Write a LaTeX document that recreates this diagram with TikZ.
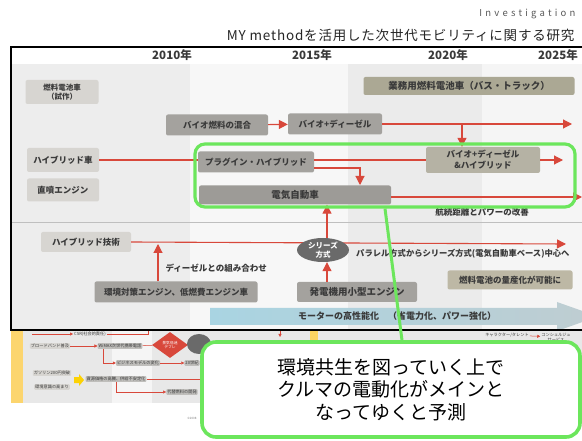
\documentclass[tikz,border=0pt]{standalone}
\usepackage{fontspec}
\setmainfont{Noto Sans CJK JP}
\usetikzlibrary{arrows.meta,shapes.geometric,positioning}
\definecolor{boxlight}{HTML}{D7D5D1}
\definecolor{boxmid}{HTML}{A4A29E}
\definecolor{boxdark}{HTML}{9D9B97}
\definecolor{oliveA}{HTML}{ABA894}
\definecolor{oliveB}{HTML}{B5B2A4}
\definecolor{oliveC}{HTML}{BDB8A5}
\definecolor{txt}{HTML}{3A3A3A}
\definecolor{redln}{HTML}{D8483B}
\definecolor{hlgreen}{HTML}{6CE65C}
\definecolor{ellgray}{HTML}{6A6A6A}
\definecolor{motorblue}{HTML}{A9D4E2}
\definecolor{motorgray}{HTML}{BFCDD1}

\begin{document}
\begin{tikzpicture}[x=1pt,y=-1pt,>={Triangle[length=9pt,width=9pt]},
  bx/.style={fill=boxlight,rounded corners=2pt,inner sep=0pt,text=txt,align=center,
    font=\bfseries\fontsize{8.5}{10}\selectfont},
  bxmid/.style={bx,fill=boxmid},
  link/.style={draw=redln,line width=1.1pt},
  tiny/.style={fill=boxlight,inner sep=1pt,rounded corners=1pt,text=txt,align=center,
    font=\fontsize{4.2}{5}\selectfont},
  tinylink/.style={draw=redln,line width=0.5pt,-{Triangle[length=3pt,width=3pt]}},
  year/.style={text=txt,font=\bfseries\fontsize{11.5}{13}\selectfont},
  hl/.style={draw=hlgreen,line width=3.2pt,rounded corners=10pt}]
\useasboundingbox (0,0) rectangle (582,441);
\fill[white] (0,0) rectangle (582,441);
% header
\node[anchor=east,text=black!65,font=\fontsize{9.5}{11}\selectfont\addfontfeatures{LetterSpace=34}] (inv) at (579,14) {Investigation};
\node[anchor=east,text=black!85,font=\fontsize{13.5}{15}\selectfont\addfontfeatures{LetterSpace=6}] (title) at (578,35) {MY methodを活用した次世代モビリティに関する研究};
% background bands of the chart
\fill[black!7] (11,64) rectangle (190,329);
\fill[black!3] (190,64) rectangle (348,329);
\fill[black!8] (348,64) rectangle (482,329);
\fill[black!4] (482,64) rectangle (582,329);
\draw[black!25,line width=0.8pt] (11,222) -- (582,222);
% years
\node[year] (y10) at (172,55) {2010年};
\node[year] (y15) at (312,55) {2015年};
\node[year] (y20) at (448,55) {2020年};
\node[year] (y25) at (558,55) {2025年};
% upper part
\node[bx,minimum width=73pt,minimum height=24pt,font=\bfseries\fontsize{7.5}{9}\selectfont] (fcproto) at (62,92) {燃料電池車\\（試作）};
\node[bx,fill=oliveA,minimum width=211pt,minimum height=18pt,font=\bfseries\fontsize{9.5}{11}\selectfont] (bizfc) at (469,86) {業務用燃料電池車（バス・トラック）};
\node[bxmid,minimum width=102pt,minimum height=21pt] (biomix) at (217,125) {バイオ燃料の混合};
\node[bxmid,minimum width=94pt,minimum height=21pt] (biodsl) at (335,124) {バイオ+ディーゼル};
\node[bx,fill=oliveB,minimum width=114pt,minimum height=26pt,font=\bfseries\fontsize{8.5}{11}\selectfont] (bdh) at (483,160) {バイオ+ディーゼル\\\&ハイブリッド};
\node[bx,minimum width=72pt,minimum height=24pt] (hv) at (63,160) {ハイブリッド車};
\node[bxmid,minimum width=116pt,minimum height=21pt] (phv) at (256,162) {プラグイン・ハイブリッド};
\node[bx,minimum width=72pt,minimum height=23pt] (di) at (63,190) {直噴エンジン};
\node[bx,fill=boxdark,minimum width=192pt,minimum height=19pt,font=\bfseries\fontsize{9.5}{11}\selectfont] (ev) at (295,195) {電気自動車};
\node[text=txt,font=\bfseries\fontsize{8.5}{10}\selectfont] (range) at (482,212) {航続距離とパワーの改善};

\coordinate (bdhfork) at (462,124);
\draw[link,->] (biomix) -- (biodsl);
\draw[link,->] (biodsl.east) -- (572,124);
\draw[link,->] (bdhfork) -- (bdhfork |- bdh.north);
\draw[link,->] (bdh.east) -- (563,160);
\draw[link] (hv.east) -- (phv.west |- hv.east);
\draw[link] (phv.east |- hv.east) -- (bdh.west);
\draw[link,->] ([yshift=-6pt]phv.east) -| (360,185);
\draw[link,->] ([yshift=-2pt]ev.east) -- (582,197);

% lower part
\node[bx,minimum width=90pt,minimum height=20pt] (hvtech) at (86,242) {ハイブリッド技術};
\node[bxmid,minimum width=163pt,minimum height=21pt] (engine) at (176,292) {環境対策エンジン、低燃費エンジン車};
\node[bxmid,minimum width=120pt,minimum height=20pt,font=\bfseries\fontsize{9.5}{11}\selectfont] (gen) at (357,292) {発電機用小型エンジン};
\node[bx,fill=oliveC,minimum width=125pt,minimum height=19pt] (fcmass) at (510,280) {燃料電池の量産化が可能に};
\node[anchor=west,text=txt,font=\bfseries\fontsize{8.5}{10}\selectfont] (combo) at (162,268) {ディーゼルとの組み合わせ};
\node[anchor=west,text=txt,font=\bfseries\fontsize{8.3}{10}\selectfont,inner sep=1pt] (shift) at (355,254) {パラレル方式からシリーズ方式(電気自動車ベース)中心へ};

\draw[link,->] (hvtech.east) -- (566,244);
\draw[link,->] (engine.north -| 158,0) -- (158,244);
\node[ellipse,fill=ellgray,text=white,minimum width=52pt,minimum height=24pt,inner sep=0pt,
  font=\bfseries\fontsize{7.5}{8.5}\selectfont,align=center] (series) at (323,250) {シリーズ\\方式};
\draw[link,->] (gen.north -| 327,0) -- (series.south -| 327,0);
\draw[link,->] (series.north -| 327,0) -- (ev.south -| 327,0);

% motor arrow
\shade[left color=motorblue,right color=motorgray] (210,308) -- (557,308) -- (557,302) -- (598,316.5)
  -- (557,331) -- (557,325) -- (210,325) -- cycle;
\node[text=txt,font=\bfseries\fontsize{9}{11}\selectfont] (motor) at (397,316.5) {モーターの高性能化　（省電力化、パワー強化）};

% chart frame
\draw[black,line width=2.2pt] (582,47) -- (11,47) -- (11,330) -- (582,330);

% second slide below the chart
\fill[black!9] (11,331.5) rectangle (582,403);
\fill[black!4] (112,331.5) rectangle (152,403);
\fill[yellow!45!orange!55] (11,331.5) rectangle (23,403);
\fill[yellow!50!orange!60] (310,331.5) rectangle (318,347);
\node[tiny,fill=none] (csr) at (90,334) {CSR(社会的責任)};
\draw[tinylink] (32,334) -- (csr.west);
\draw[redln,line width=0.5pt] (csr.east) -- (148,334) -- (148,331);
\node[tiny] (bband) at (50,346) {ブロードバンド普及};
\node[tiny,fill=boxmid!70] (wimax) at (120,346) {WiMAX次世代携帯電話};
\draw[tinylink] (bband) -- (wimax);
\node[diamond,fill=redln,text=white,minimum width=36pt,minimum height=26pt,inner sep=0pt,
  font=\fontsize{3.8}{4.5}\selectfont,align=center] (slump) at (170,345) {景気低迷\\デフレ};
\draw[redln,line width=0.5pt] (wimax) -- (slump);
\node[ellipse,fill=ellgray,minimum width=24pt,minimum height=20pt] (tel) at (199,344) {};
\node[tiny,fill=boxmid!70] (bizmodel) at (138,363) {ビジネスモデルの変化};
\draw[tinylink] ([xshift=-17pt]wimax.south) |- (bizmodel.west);
\node[tiny,fill=boxmid!70] (c20) at (192,363) {20世紀};
\draw[tinylink] (bizmodel) -- (c20);
\node[tiny] (gas) at (52,373) {ガソリン200円突破};
\node[tiny] (eco) at (52,387) {環境意識の高まり};
\fill[yellow!70!orange] (74,377) -- (79,377) -- (79,374) -- (84,380) -- (79,386) -- (79,383) -- (74,383) -- cycle;
\node[tiny,fill=boxmid!70] (res) at (116,379) {資源価格の高騰、供給不安定化};
\draw[redln,line width=0.5pt] (res.east) -- (210,379);
\node[tiny,fill=boxmid!70] (alt) at (182,392) {代替燃料の開発};
\draw[tinylink] (res.south) |- (alt.west);
\node[text=black!50,font=\fontsize{3}{4}\selectfont] (copy) at (192,418) {©2008};
\node[tiny,fill=none] (chara) at (507,335) {キャラクター/タレント};
\node[tiny,fill=none] (conc) at (556,337) {コンシェルジュ\\サービス};
\draw[tinylink] (chara) -- (conc);
\draw[tinylink] (280,331.5) -- (280,337);

% highlight and callout
\node[hl,minimum width=380pt,minimum height=63pt] (focus) at (385,175.5) {};
\node[hl,line width=3.6pt,rounded corners=14pt,fill=white,minimum width=378pt,minimum height=95pt,
  font=\fontsize{19}{22.5}\selectfont,align=center] (callout) at (391,389.5)
  {環境共生を図っていく上で\\クルマの電動化がメインと\\なってゆくと予測};
\draw[hlgreen,line width=3pt] (focus.south) -- ([xshift=11pt]callout.north);
\end{tikzpicture}
\end{document}
